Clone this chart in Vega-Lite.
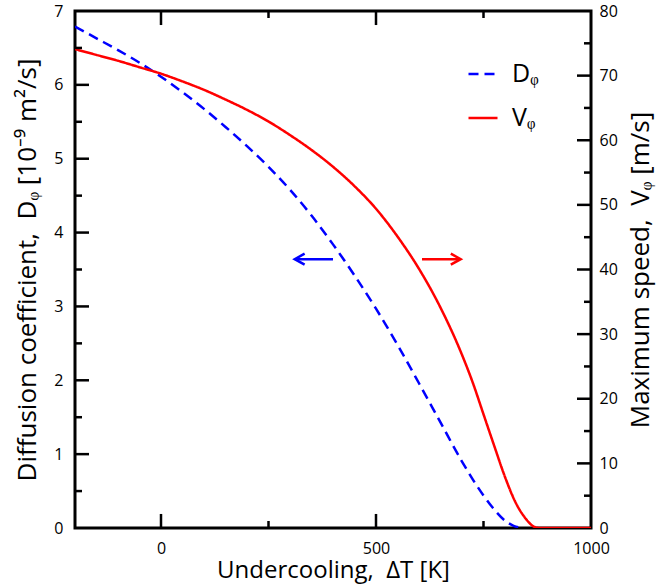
{
  "$schema": "https://vega.github.io/schema/vega-lite/v6.json",
  "width": 516,
  "height": 517,
  "autosize": "none",
  "padding": {"left": 75, "top": 11, "right": 70, "bottom": 59},
  "background": "white",
  "config": {
    "font": "Open Sans",
    "view": {"stroke": "black", "strokeWidth": 3},
    "axis": {
      "domain": false,
      "grid": false,
      "ticks": false,
      "tickSize": 0,
      "labelColor": "black",
      "labelFont": "Open Sans",
      "labelFontSize": 16,
      "labelFlush": false,
      "labelOverlap": false,
      "titleFont": "Open Sans",
      "titleFontSize": 24,
      "titleFontWeight": "normal",
      "titleColor": "black"
    },
    "legend": {
      "orient": "none",
      "legendX": 392,
      "legendY": 47,
      "symbolType": "stroke",
      "symbolSize": 841,
      "symbolStrokeWidth": 2.5,
      "labelFont": "Open Sans",
      "labelFontSize": 25,
      "labelColor": "black",
      "labelOffset": 13,
      "rowPadding": 15,
      "padding": 0
    }
  },
  "datasets": {
    "curves": [
      {"dT": -200, "value": 6.79, "series": "Dᵩ"},
      {"dT": -150, "value": 6.63, "series": "Dᵩ"},
      {"dT": -100, "value": 6.47, "series": "Dᵩ"},
      {"dT": -50, "value": 6.3, "series": "Dᵩ"},
      {"dT": 0, "value": 6.11, "series": "Dᵩ"},
      {"dT": 50, "value": 5.9, "series": "Dᵩ"},
      {"dT": 100, "value": 5.675, "series": "Dᵩ"},
      {"dT": 150, "value": 5.43, "series": "Dᵩ"},
      {"dT": 200, "value": 5.17, "series": "Dᵩ"},
      {"dT": 250, "value": 4.89, "series": "Dᵩ"},
      {"dT": 300, "value": 4.58, "series": "Dᵩ"},
      {"dT": 350, "value": 4.23, "series": "Dᵩ"},
      {"dT": 400, "value": 3.84, "series": "Dᵩ"},
      {"dT": 450, "value": 3.42, "series": "Dᵩ"},
      {"dT": 500, "value": 2.97, "series": "Dᵩ"},
      {"dT": 550, "value": 2.48, "series": "Dᵩ"},
      {"dT": 600, "value": 1.96, "series": "Dᵩ"},
      {"dT": 650, "value": 1.43, "series": "Dᵩ"},
      {"dT": 700, "value": 0.9, "series": "Dᵩ"},
      {"dT": 750, "value": 0.44, "series": "Dᵩ"},
      {"dT": 775, "value": 0.25, "series": "Dᵩ"},
      {"dT": 800, "value": 0.1, "series": "Dᵩ"},
      {"dT": 820, "value": 0.03, "series": "Dᵩ"},
      {"dT": 840, "value": 0, "series": "Dᵩ"},
      {"dT": -200, "value": 74.1, "series": "Vᵩ"},
      {"dT": -150, "value": 73.2, "series": "Vᵩ"},
      {"dT": -100, "value": 72.3, "series": "Vᵩ"},
      {"dT": -50, "value": 71.3, "series": "Vᵩ"},
      {"dT": 0, "value": 70.3, "series": "Vᵩ"},
      {"dT": 50, "value": 69.1, "series": "Vᵩ"},
      {"dT": 100, "value": 67.8, "series": "Vᵩ"},
      {"dT": 150, "value": 66.3, "series": "Vᵩ"},
      {"dT": 200, "value": 64.7, "series": "Vᵩ"},
      {"dT": 250, "value": 62.9, "series": "Vᵩ"},
      {"dT": 300, "value": 60.8, "series": "Vᵩ"},
      {"dT": 350, "value": 58.5, "series": "Vᵩ"},
      {"dT": 400, "value": 55.9, "series": "Vᵩ"},
      {"dT": 450, "value": 52.9, "series": "Vᵩ"},
      {"dT": 500, "value": 49.4, "series": "Vᵩ"},
      {"dT": 550, "value": 45.1, "series": "Vᵩ"},
      {"dT": 600, "value": 40.1, "series": "Vᵩ"},
      {"dT": 650, "value": 34.1, "series": "Vᵩ"},
      {"dT": 700, "value": 26.8, "series": "Vᵩ"},
      {"dT": 725, "value": 22.5, "series": "Vᵩ"},
      {"dT": 750, "value": 17.6, "series": "Vᵩ"},
      {"dT": 775, "value": 12.7, "series": "Vᵩ"},
      {"dT": 800, "value": 7.9, "series": "Vᵩ"},
      {"dT": 825, "value": 3.9, "series": "Vᵩ"},
      {"dT": 850, "value": 1.3, "series": "Vᵩ"},
      {"dT": 865, "value": 0.3, "series": "Vᵩ"},
      {"dT": 880, "value": 0, "series": "Vᵩ"},
      {"dT": 1000, "value": 0, "series": "Vᵩ"}
    ],
    "arrows": [
      {"series": "Dᵩ", "start": 400, "end": 313, "tip": 311, "level": 3.64},
      {"series": "Vᵩ", "start": 607, "end": 695, "tip": 697, "level": 41.6}
    ],
    "xticks": [
      {"v": 0, "kind": "major"},
      {"v": 250, "kind": "minor"},
      {"v": 500, "kind": "major"},
      {"v": 750, "kind": "minor"}
    ],
    "dticks": [
      {"v": 0.5, "kind": "minor"}, {"v": 1, "kind": "major"},
      {"v": 1.5, "kind": "minor"}, {"v": 2, "kind": "major"},
      {"v": 2.5, "kind": "minor"}, {"v": 3, "kind": "major"},
      {"v": 3.5, "kind": "minor"}, {"v": 4, "kind": "major"},
      {"v": 4.5, "kind": "minor"}, {"v": 5, "kind": "major"},
      {"v": 5.5, "kind": "minor"}, {"v": 6, "kind": "major"},
      {"v": 6.5, "kind": "minor"}
    ],
    "vticks": [
      {"v": 5, "kind": "minor"}, {"v": 10, "kind": "major"},
      {"v": 15, "kind": "minor"}, {"v": 20, "kind": "major"},
      {"v": 25, "kind": "minor"}, {"v": 30, "kind": "major"},
      {"v": 35, "kind": "minor"}, {"v": 40, "kind": "major"},
      {"v": 45, "kind": "minor"}, {"v": 50, "kind": "major"},
      {"v": 55, "kind": "minor"}, {"v": 60, "kind": "major"},
      {"v": 65, "kind": "minor"}, {"v": 70, "kind": "major"},
      {"v": 75, "kind": "minor"}
    ]
  },
  "layer": [
    {
      "data": {"name": "curves"},
      "transform": [{"filter": "datum.series === 'Dᵩ'"}],
      "mark": {"type": "line", "strokeWidth": 2.5, "interpolate": "monotone", "clip": true},
      "encoding": {
        "x": {
          "field": "dT", "type": "quantitative",
          "scale": {"domain": [-200, 1000], "nice": false, "zero": false},
          "axis": {
            "orient": "bottom",
            "values": [0, 500, 1000],
            "format": "d",
            "labelPadding": 12,
            "title": "Undercooling,\u00a0 ΔT [K]",
            "titlePadding": 2
          }
        },
        "y": {
          "field": "value", "type": "quantitative",
          "scale": {"domain": [0, 7], "nice": false},
          "axis": {
            "orient": "left",
            "values": [0, 1, 2, 3, 4, 5, 6, 7],
            "format": "d",
            "labelPadding": 12,
            "title": "Diffusion coefficient,\u00a0 Dᵩ [10⁻⁹ m²/s]",
            "titleFontSize": 26,
            "titlePadding": 13
          }
        },
        "color": {
          "field": "series", "type": "nominal",
          "scale": {"domain": ["Dᵩ", "Vᵩ"], "range": ["#0000ff", "#ff0000"]},
          "legend": {"title": null}
        },
        "strokeDash": {
          "field": "series", "type": "nominal",
          "scale": {"domain": ["Dᵩ", "Vᵩ"], "range": [[10, 6], [1, 0]]},
          "legend": {"title": null}
        }
      }
    },
    {
      "data": {"name": "curves"},
      "transform": [{"filter": "datum.series === 'Vᵩ'"}],
      "mark": {"type": "line", "strokeWidth": 2.5, "interpolate": "monotone", "clip": true},
      "encoding": {
        "x": {
          "field": "dT", "type": "quantitative",
          "scale": {"domain": [-200, 1000], "nice": false, "zero": false},
          "axis": null
        },
        "y": {
          "field": "value", "type": "quantitative",
          "scale": {"domain": [0, 80], "nice": false},
          "axis": {
            "orient": "right",
            "values": [0, 10, 20, 30, 40, 50, 60, 70, 80],
            "format": "d",
            "labelPadding": 8,
            "title": "Maximum speed,\u00a0 Vᵩ [m/s]",
            "titleFontSize": 26,
            "titleAngle": 270,
            "titlePadding": 36
          }
        },
        "color": {"field": "series", "type": "nominal", "legend": {"title": null}},
        "strokeDash": {"field": "series", "type": "nominal", "legend": {"title": null}}
      }
    },
    {
      "data": {"name": "arrows"},
      "transform": [{"filter": "datum.series === 'Dᵩ'"}],
      "mark": {"type": "rule", "color": "#0000ff", "strokeWidth": 2.5},
      "encoding": {
        "x": {"field": "start", "type": "quantitative", "axis": null},
        "x2": {"field": "end"},
        "y": {"field": "level", "type": "quantitative", "scale": {"domain": [0, 7], "nice": false}, "axis": null}
      }
    },
    {
      "data": {"name": "arrows"},
      "transform": [{"filter": "datum.series === 'Dᵩ'"}],
      "mark": {"type": "point", "shape": "M 1.8 -1 L 0 0 L 1.8 1", "size": 121, "filled": false, "stroke": "#0000ff", "strokeWidth": 2.5, "opacity": 1},
      "encoding": {
        "x": {"field": "tip", "type": "quantitative", "axis": null},
        "y": {"field": "level", "type": "quantitative", "scale": {"domain": [0, 7], "nice": false}, "axis": null}
      }
    },
    {
      "data": {"name": "arrows"},
      "transform": [{"filter": "datum.series === 'Vᵩ'"}],
      "mark": {"type": "rule", "color": "#ff0000", "strokeWidth": 2.5},
      "encoding": {
        "x": {"field": "start", "type": "quantitative", "axis": null},
        "x2": {"field": "end"},
        "y": {"field": "level", "type": "quantitative", "scale": {"domain": [0, 80], "nice": false}, "axis": null}
      }
    },
    {
      "data": {"name": "arrows"},
      "transform": [{"filter": "datum.series === 'Vᵩ'"}],
      "mark": {"type": "point", "shape": "M -1.8 -1 L 0 0 L -1.8 1", "size": 121, "filled": false, "stroke": "#ff0000", "strokeWidth": 2.5, "opacity": 1},
      "encoding": {
        "x": {"field": "tip", "type": "quantitative", "axis": null},
        "y": {"field": "level", "type": "quantitative", "scale": {"domain": [0, 80], "nice": false}, "axis": null}
      }
    },
    {
      "data": {"name": "xticks"},
      "transform": [{"filter": "datum.kind === 'major'"}],
      "mark": {"type": "rule", "color": "#000001", "strokeWidth": 2.5},
      "encoding": {
        "x": {"field": "v", "type": "quantitative", "axis": null},
        "y": {"datum": 0, "type": "quantitative", "scale": {"domain": [0, 7], "nice": false}, "axis": null},
        "y2": {"datum": 0.19}
      }
    },
    {
      "data": {"name": "xticks"},
      "transform": [{"filter": "datum.kind === 'minor'"}],
      "mark": {"type": "rule", "color": "#000001", "strokeWidth": 2.5},
      "encoding": {
        "x": {"field": "v", "type": "quantitative", "axis": null},
        "y": {"datum": 0, "type": "quantitative", "scale": {"domain": [0, 7], "nice": false}, "axis": null},
        "y2": {"datum": 0.095}
      }
    },
    {
      "data": {"name": "xticks"},
      "transform": [{"filter": "datum.kind === 'major'"}],
      "mark": {"type": "rule", "color": "#000001", "strokeWidth": 2.5},
      "encoding": {
        "x": {"field": "v", "type": "quantitative", "axis": null},
        "y": {"datum": 7, "type": "quantitative", "scale": {"domain": [0, 7], "nice": false}, "axis": null},
        "y2": {"datum": 6.81}
      }
    },
    {
      "data": {"name": "xticks"},
      "transform": [{"filter": "datum.kind === 'minor'"}],
      "mark": {"type": "rule", "color": "#000001", "strokeWidth": 2.5},
      "encoding": {
        "x": {"field": "v", "type": "quantitative", "axis": null},
        "y": {"datum": 7, "type": "quantitative", "scale": {"domain": [0, 7], "nice": false}, "axis": null},
        "y2": {"datum": 6.905}
      }
    },
    {
      "data": {"name": "dticks"},
      "transform": [{"filter": "datum.kind === 'major'"}],
      "mark": {"type": "rule", "color": "#000001", "strokeWidth": 2.5},
      "encoding": {
        "x": {"datum": -200, "type": "quantitative", "axis": null},
        "x2": {"datum": -167.4},
        "y": {"field": "v", "type": "quantitative", "scale": {"domain": [0, 7], "nice": false}, "axis": null}
      }
    },
    {
      "data": {"name": "dticks"},
      "transform": [{"filter": "datum.kind === 'minor'"}],
      "mark": {"type": "rule", "color": "#000001", "strokeWidth": 2.5},
      "encoding": {
        "x": {"datum": -200, "type": "quantitative", "axis": null},
        "x2": {"datum": -183.7},
        "y": {"field": "v", "type": "quantitative", "scale": {"domain": [0, 7], "nice": false}, "axis": null}
      }
    },
    {
      "data": {"name": "vticks"},
      "transform": [{"filter": "datum.kind === 'major'"}],
      "mark": {"type": "rule", "color": "#000001", "strokeWidth": 2.5},
      "encoding": {
        "x": {"datum": 1000, "type": "quantitative", "axis": null},
        "x2": {"datum": 967.4},
        "y": {"field": "v", "type": "quantitative", "scale": {"domain": [0, 80], "nice": false}, "axis": null}
      }
    },
    {
      "data": {"name": "vticks"},
      "transform": [{"filter": "datum.kind === 'minor'"}],
      "mark": {"type": "rule", "color": "#000001", "strokeWidth": 2.5},
      "encoding": {
        "x": {"datum": 1000, "type": "quantitative", "axis": null},
        "x2": {"datum": 983.7},
        "y": {"field": "v", "type": "quantitative", "scale": {"domain": [0, 80], "nice": false}, "axis": null}
      }
    }
  ],
  "resolve": {"scale": {"y": "independent"}, "axis": {"x": "independent", "y": "independent"}}
}
